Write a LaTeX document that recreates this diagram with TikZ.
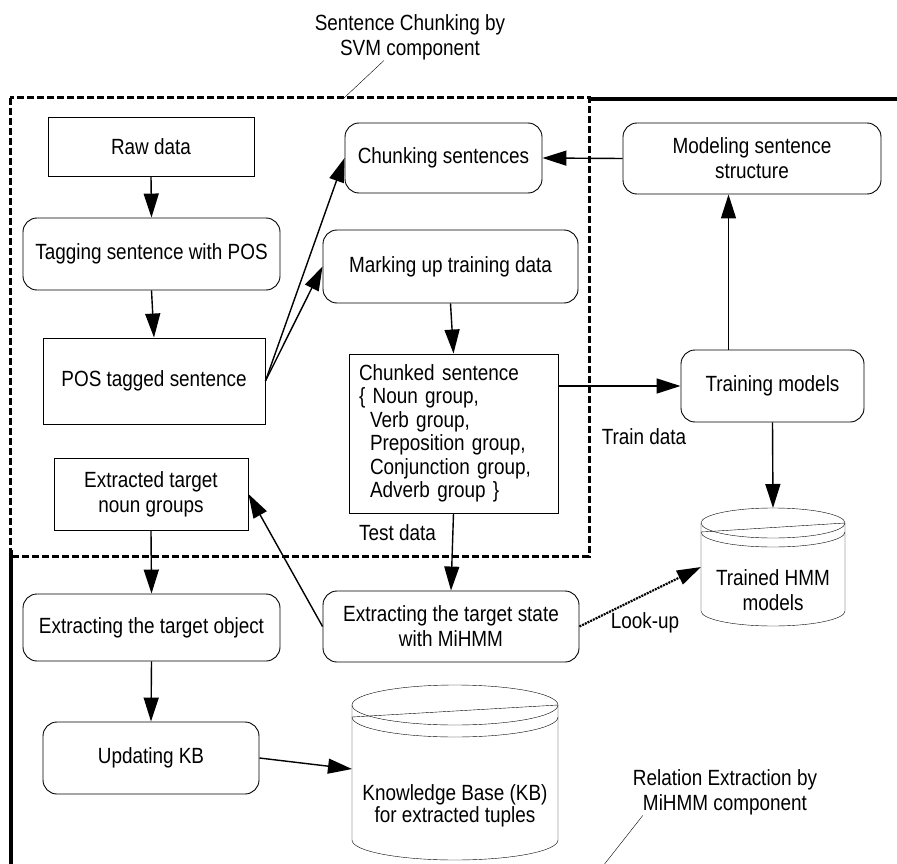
\documentclass[tikz,border=0pt]{standalone}
\usepackage{fontspec}
\setmainfont{Liberation Sans}[FakeStretch=0.86]
\usetikzlibrary{arrows.meta}

% drum: centre x, top, half width, rim radius, bottom
\newcommand{\drawdrum}[5]{%
	\draw (#1,#2+#4) ellipse [x radius=#3pt, y radius=#4pt];
	\draw (#1-#3,#2+1.6*#4) arc [start angle=180, end angle=360, x radius=#3pt, y radius=#4pt];
	\draw (#1-#3,#2+#4) -- (#1-#3,#5-#4) arc [start angle=180, end angle=360, x radius=#3pt, y radius=#4pt] -- (#1+#3,#2+#4);
	\draw (#1-#3,#2+1.6*#4) -- (#1+#3,#2+#4);
}

\begin{document}
\begin{tikzpicture}[x=1pt, y=-1pt,
	every node/.style={font=\fontsize{22}{25}\selectfont},
	proc/.style={draw, line width=0.9pt, rounded corners=14pt, align=center, inner sep=0pt},
	datum/.style={draw, line width=0.9pt, align=center, inner sep=0pt},
	flow/.style={-{Triangle[length=24pt,width=15pt]}, line width=1.4pt},
	svmbox/.style={line width=3pt, dash pattern=on 7pt off 3pt},
	hmmbox/.style={line width=3.2pt},
	lookup/.style={flow, line width=2.2pt, dash pattern=on 2pt off 1pt}]
	\useasboundingbox (0,0) rectangle (897,864);

	% component frames
	\draw[svmbox] (10,98) rectangle (589,556);
	\draw[hmmbox] (589,99) -- (899,99);
	\draw[hmmbox] (11,550) -- (11,866);

	\node[align=center, inner sep=0pt] (svmtitle) at (410,37.5) {Sentence Chunking by\\SVM component};
	\node[align=center, inner sep=0pt] (reltitle) at (725,792.5) {Relation Extraction by\\MiHMM component};
	\coordinate (svmfoot) at (344,98);
	\coordinate (relfoot) at (603,866);
	\draw ([xshift=-26pt]svmtitle.south) -- (svmfoot);
	\draw ([xshift=10pt]reltitle.south west) -- (relfoot);

	% left column
	\node[datum, minimum width=206pt, minimum height=59pt] (raw) at (151,146.5) {Raw data};
	\node[proc, minimum width=257pt, minimum height=72pt] (tag) at (151.5,254) {Tagging sentence with POS};
	\node[datum, minimum width=222pt, minimum height=86pt] (pos) at (154,381) {POS tagged sentence};
	\node[datum, minimum width=194pt, minimum height=72pt] (extr) at (151,494) {Extracted target\\noun groups};
	\node[proc, minimum width=257pt, minimum height=67pt] (object) at (151.5,627.5) {Extracting the target object};
	\node[proc, minimum width=216pt, minimum height=72pt] (update) at (151,758) {Updating KB};

	% middle column
	\node[proc, minimum width=197pt, minimum height=70pt] (chunk) at (443.5,158) {Chunking sentences};
	\node[proc, minimum width=255pt, minimum height=73pt] (mark) at (450.5,266.5) {Marking up training data};
	\node[datum, minimum width=209pt, minimum height=159pt, text width=189pt, align=left, inner xsep=10pt,
		font=\fontsize{22}{23.5}\selectfont] (chunked) at (453.5,433.5)
		{Chunked sentence\\\{ Noun group,\\\hspace*{11pt}Verb group,\\\hspace*{11pt}Preposition group,\\\hspace*{11pt}Conjunction group,\\\hspace*{11pt}Adverb group \}};
	\node[proc, minimum width=256pt, minimum height=71pt] (state) at (451,626.5) {Extracting the target state\\with MiHMM};
	\drawdrum{455}{685}{103}{20}{860}
	\node[align=center, font=\fontsize{22}{22.5}\selectfont] (kb) at (455,806) {Knowledge Base (KB)\\for extracted tuples};
	\coordinate (kbside) at (352,769);

	% right column
	\node[proc, minimum width=258pt, minimum height=71pt] (model) at (752,158.5) {Modeling sentence\\structure};
	\node[proc, minimum width=183pt, minimum height=72pt] (train) at (772.5,386) {Training models};
	\drawdrum{773}{508}{72}{15}{626}
	\node[align=center] (hmm) at (773,590) {Trained HMM\\models};
	\coordinate (hmmtop) at (773,508);
	\coordinate (hmmside) at (701,567);

	% labels
	\node (traindata) at (644,437) {Train data};
	\node (testdata) at (397.5,533) {Test data};
	\node (lookuptext) at (645,623) {Look-up};

	% flow
	\draw[flow] (raw.south) -- (tag.north);
	\draw[flow] (tag.south) -- (pos.north);
	\draw[flow] (pos.east) -- (chunk.west);
	\draw[flow] (pos.east) -- (mark.west);
	\draw[flow] (mark.south) -- (chunked.north);
	\draw[flow] (model.west) -- (chunk.east);
	\draw[flow] (chunked.east |- train.west) -- (train.west);
	\draw[flow] ([xshift=-44pt]train.north) -- ([xshift=-44pt]train.north |- model.south);
	\draw[flow] (train.south) -- (hmmtop);
	\draw[flow] (chunked.south) -- (state.north);
	\draw[flow] (state.west) -- (extr.east);
	\draw[flow] (extr.south) -- (object.north);
	\draw[flow] (object.south) -- (update.north);
	\draw[flow] (update.east) -- (kbside);
	\draw[lookup] (state.east) -- (hmmside);
\end{tikzpicture}
\end{document}
